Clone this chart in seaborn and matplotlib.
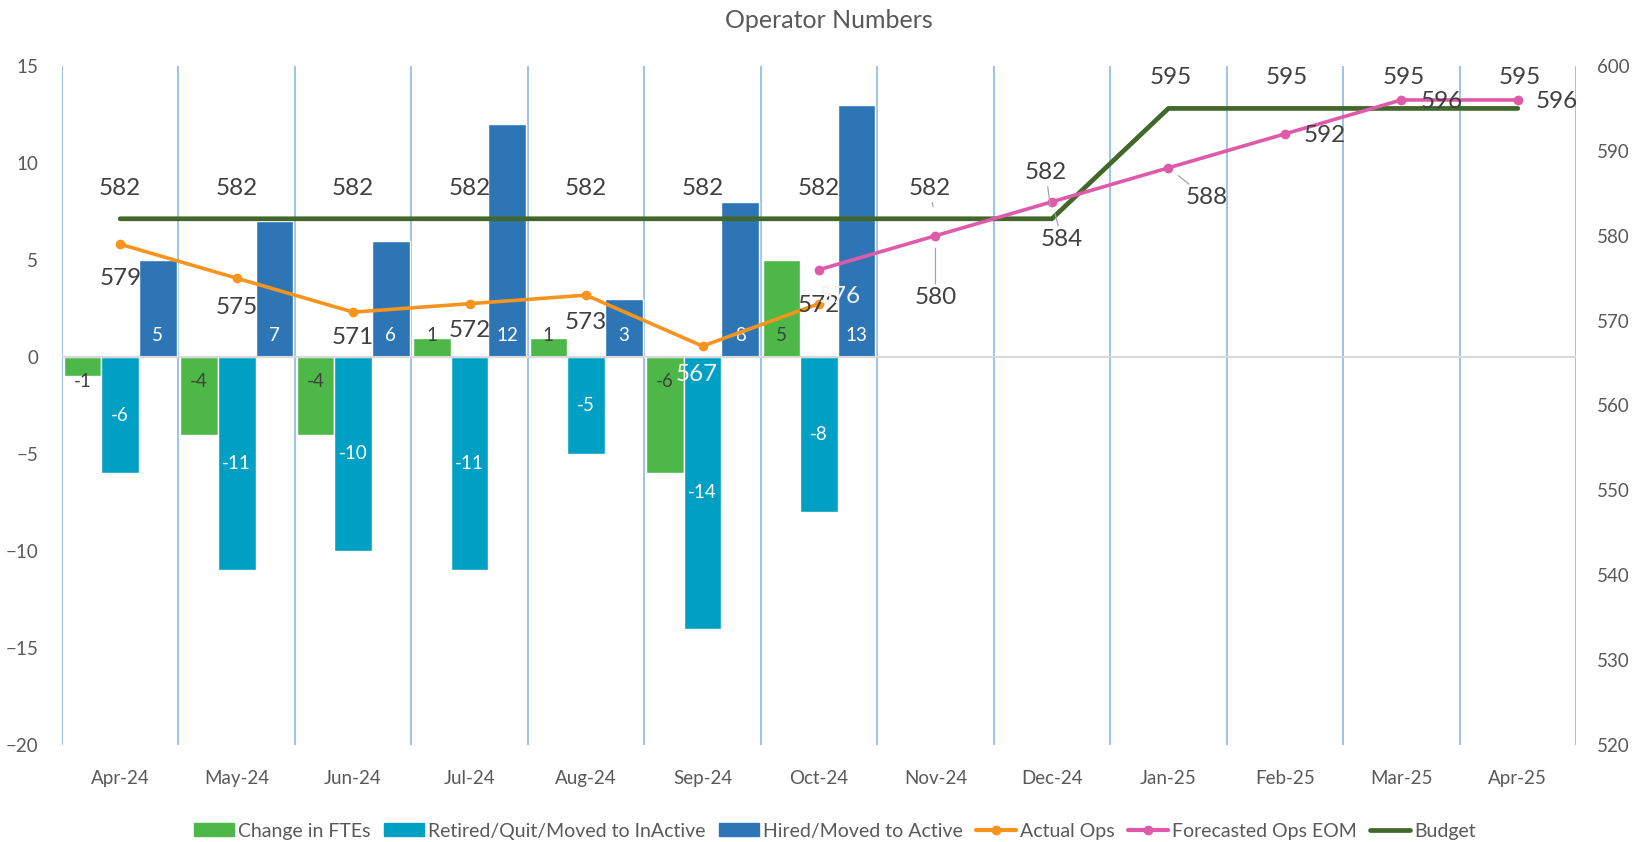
"""
Operator numbers: monthly FTE movements (bars) with headcount lines on a second axis.
"""
import numpy as np
import pandas as pd
import matplotlib
matplotlib.use("Agg")
import matplotlib.pyplot as plt
from matplotlib.patches import Patch
from matplotlib.lines import Line2D
import seaborn as sns

# ---- data -------------------------------------------------------------
months = ["Apr-24", "May-24", "Jun-24", "Jul-24", "Aug-24", "Sep-24", "Oct-24",
          "Nov-24", "Dec-24", "Jan-25", "Feb-25", "Mar-25", "Apr-25"]
bar_months = months[:7]
change_fte = [-1, -4, -4, 1, 1, -6, 5]
retired = [-6, -11, -10, -11, -5, -14, -8]
hired = [5, 7, 6, 12, 3, 8, 13]

actual_months = months[:7]
actual_ops = [579, 575, 571, 572, 573, 567, 572]
forecast_months = months[6:]
forecast_ops = [576, 580, 584, 588, 592, 596, 596]
budget = [582, 582, 582, 582, 582, 582, 582, 582, 582, 595, 595, 595, 595]

series_names = ["Change in FTEs", "Retired/Quit/Moved to InActive", "Hired/Moved to Active"]

# ---- style ------------------------------------------------------------
C_CHANGE = "#4DB848"
C_RETIRED = "#00A0C4"
C_HIRED = "#2E75B6"
C_ACTUAL = "#F7941D"
C_FORECAST = "#DF5AA8"
C_BUDGET = "#41682A"
C_GRID = "#8DB7E4"
C_TEXT = "#595959"
C_LABEL = "#404040"

sns.set_theme(style="white")
plt.rcParams["font.family"] = ["Lato", "DejaVu Sans"]

df = pd.DataFrame({
    "month": bar_months * 3,
    "value": change_fte + retired + hired,
    "series": np.repeat(series_names, len(bar_months)),
})

fig = plt.figure(figsize=(16.44, 8.42), dpi=100)
ax = fig.add_axes([62 / 1644, 1 - 745 / 842, (1576 - 62) / 1644, (745 - 66) / 842])

sns.barplot(data=df, x="month", y="value", hue="series", order=months,
            hue_order=series_names, palette=[C_CHANGE, C_RETIRED, C_HIRED],
            width=0.97, gap=0, dodge=True, saturation=1, legend=False, ax=ax)

ax.set_xlim(-0.5, len(months) - 0.5)
ax.set_ylim(-20, 15)
ax.set_yticks(range(-20, 16, 5))
ax.set_xlabel("")
ax.set_ylabel("")
ax.set_xticks(np.arange(-0.5, len(months), 1), minor=True)
ax.grid(False)
ax.grid(which="minor", axis="x", color=C_GRID, lw=1.2)
ax.set_axisbelow(True)
ax.axhline(0, color="#D9D9D9", lw=1.5, zorder=1.5)
ax.tick_params(axis="x", which="both", length=0, pad=18, labelsize=13.5, labelcolor=C_TEXT)
ax.tick_params(axis="y", length=0, pad=17, labelsize=13.5, labelcolor=C_TEXT)
for s in ax.spines.values():
    s.set_visible(False)

# bar value labels
for name, cont in zip(series_names, ax.containers):
    for patch in cont:
        h = patch.get_height()
        if np.isnan(h):
            continue
        xc = patch.get_x() + patch.get_width() / 2
        if name == "Retired/Quit/Moved to InActive":
            ax.text(xc, h / 2, f"{h:.0f}", ha="center", va="center", color="white", fontsize=13.5)
        else:
            col = "white" if name == "Hired/Moved to Active" else C_LABEL
            off = 21 if h > 0 else -25
            ax.annotate(f"{h:.0f}", (xc, 0), xytext=(0, off), textcoords="offset pixels",
                        ha="center", va="center", color=col, fontsize=13.5)

# ---- right axis lines ---------------------------------------------------
ax2 = ax.twinx()
pos = {m: i for i, m in enumerate(months)}
sns.lineplot(x=[pos[m] for m in months], y=budget, color=C_BUDGET, lw=3.4, ax=ax2)
sns.lineplot(x=[pos[m] for m in actual_months], y=actual_ops, color=C_ACTUAL, lw=2.6,
             marker="o", markersize=7, markeredgewidth=0, ax=ax2)
sns.lineplot(x=[pos[m] for m in forecast_months], y=forecast_ops, color=C_FORECAST, lw=2.6,
             marker="o", markersize=7, markeredgewidth=0, ax=ax2)
ax2.set_ylim(520, 600)
ax2.set_yticks(range(520, 601, 10))
ax2.set_xlim(-0.5, len(months) - 0.5)
ax2.grid(False)
ax2.tick_params(axis="y", length=0, pad=15, labelsize=13.5, labelcolor=C_TEXT)
for s in ax2.spines.values():
    s.set_visible(False)

LBL = dict(fontsize=17.5, color=C_LABEL, ha="center", va="center")
LEADER = dict(arrowstyle="-", color="#A6A6A6", lw=0.9, shrinkA=0, shrinkB=9)

# budget labels (pixel offsets from the point)
budget_off = [(0, 30)] * 7 + [(-6, 30), (-6, 46)] + [(2, 31)] * 4
for i, (v, off) in enumerate(zip(budget, budget_off)):
    lead = LEADER if i in (7, 8) else None
    ax2.annotate(f"{v}", (i, v), xytext=off, textcoords="offset pixels",
                 arrowprops=lead, **LBL)

# actual ops labels
actual_off = [(0, -34), (0, -29), (0, -25), (0, -27), (0, -27), (-6, -28), (0, -2)]
actual_col = [C_LABEL] * 5 + ["#F2F2F2", C_LABEL]
for m, v, off, c in zip(actual_months, actual_ops, actual_off, actual_col):
    kw = dict(LBL, color=c)
    ax2.annotate(f"{v}", (pos[m], v), xytext=off, textcoords="offset pixels", **kw)

# forecast labels
forecast_off = [(21, -27), (0, -62), (10, -38), (38, -30), (40, -2), (40, -2), (39, -2)]
for j, (m, v, off) in enumerate(zip(forecast_months, forecast_ops, forecast_off)):
    c = "#EEF3FA" if j == 0 else C_LABEL
    lead = LEADER if j in (1, 2, 3) else None
    kw = dict(LBL, color=c)
    ax2.annotate(f"{v}", (pos[m], v), xytext=off, textcoords="offset pixels",
                 arrowprops=lead, **kw)

fig.text(829 / 1644, 1 - 21 / 842, "Operator Numbers", ha="center", va="center",
         fontsize=18, color=C_TEXT)

handles = [
    Patch(color=C_CHANGE, label=series_names[0]),
    Patch(color=C_RETIRED, label=series_names[1]),
    Patch(color=C_HIRED, label=series_names[2]),
    Line2D([], [], color=C_ACTUAL, lw=3, marker="o", markersize=6, label="Actual Ops"),
    Line2D([], [], color=C_FORECAST, lw=3, marker="o", markersize=6, label="Forecasted Ops EOM"),
    Line2D([], [], color=C_BUDGET, lw=3.4, label="Budget"),
]
fig.legend(handles=handles, loc="center", bbox_to_anchor=(835 / 1644, 1 - 831 / 842),
           ncol=6, frameon=False, fontsize=14, handlelength=2.05, handleheight=0.62,
           handletextpad=0.2, columnspacing=0.7, labelcolor=C_TEXT)

fig.savefig("out.png", dpi=100)
plt.close(fig)
